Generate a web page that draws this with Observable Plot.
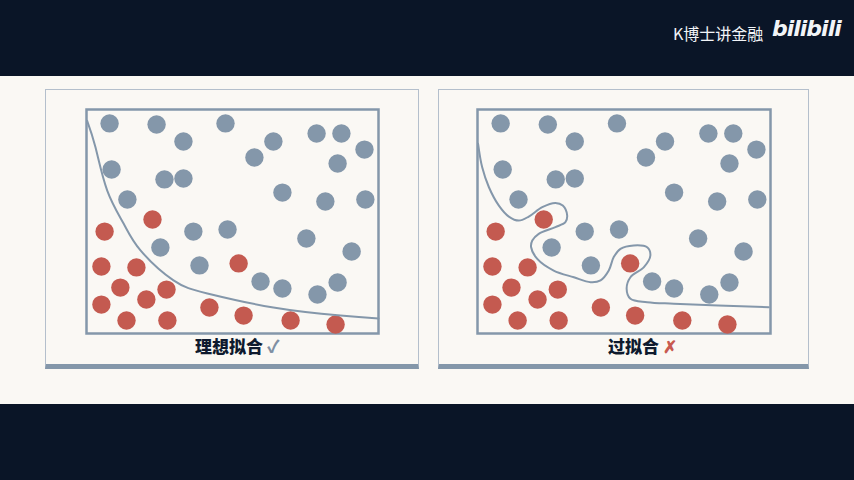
<!DOCTYPE html>
<html>
<head>
<meta charset="utf-8">
<script src="https://cdn.jsdelivr.net/npm/d3@7"></script>
<script src="https://cdn.jsdelivr.net/npm/@observablehq/plot@0.6"></script>
<style>
  html, body { margin: 0; padding: 0; }
  body { width: 854px; height: 480px; background: #0a1527; position: relative; overflow: hidden;
         font-family: "Noto Sans CJK SC", "Noto Sans", sans-serif; }
  #band { position: absolute; left: 0; top: 76px; width: 854px; height: 328px; background: #faf8f4; }
  .panel { position: absolute; top: 89px; height: 274px; border: 1px solid #b4bfcc;
           border-bottom: 5px solid #8497aa; box-sizing: content-box; }
  .plotwrap { position: absolute; top: 99px; }
  .caption { position: absolute; top: 333px; font-weight: 900; font-size: 17px; color: #0e1a2e;
             white-space: nowrap; letter-spacing: 0px; }
  .brand { position: absolute; top: 21px; left: 673px; color: #f2f4f7; font-size: 16px; }
  .bili { position: absolute; top: 16px; left: 772px; color: #f2f4f7; font-size: 22px;
          font-family: "DejaVu Sans", sans-serif; font-weight: 700; letter-spacing: -1px; font-style: italic; }
</style>
</head>
<body>
<div id="band"></div>
<div class="panel" style="left:45px; width:372px;"></div>
<div class="panel" style="left:438px; width:369px;"></div>
<div id="left" class="plotwrap" style="left:76px;"></div>
<div id="right" class="plotwrap" style="left:467px;"></div>
<div class="caption" style="left:195px;">理想拟合 <span style="color:#7f8fa3;">✓</span></div>
<div class="caption" style="left:608px;">过拟合 <span style="color:#c85a50;">✗</span></div>
<div class="brand">K博士讲金融</div>
<div class="bili">bilibili</div>
<script>
// Class A (blue-grey) points
const blueX = [7.9, 24.0, 47.6, 33.2, 64.0, 78.8, 87.3, 95.2, 57.5, 86.0, 8.6, 26.7, 33.2, 14.0, 67.1, 81.8, 95.5, 36.6, 48.3, 25.3, 75.3, 90.8, 38.7, 59.6, 67.1, 86.0, 79.1];
const blueY = [93.8, 93.3, 93.8, 85.7, 85.7, 89.3, 89.3, 82.1, 78.6, 75.9, 73.2, 68.8, 69.2, 59.8, 62.9, 58.9, 59.8, 45.5, 46.4, 38.4, 42.4, 36.6, 30.4, 23.2, 20.1, 22.8, 17.4];
// Class B (red) points
const redX = [22.6, 6.2, 5.1, 17.1, 52.1, 11.6, 27.4, 20.5, 5.1, 42.1, 53.8, 13.7, 27.7, 69.9, 85.3];
const redY = [50.9, 45.5, 29.9, 29.5, 31.3, 20.5, 19.6, 15.2, 12.9, 11.6, 8.0, 5.8, 5.8, 5.8, 4.0];
// Ideal fit boundary
const goodX = [0.2, 3.1, 7.1, 12.7, 18.5, 29.8, 41.4, 64.0, 87.0, 100];
const goodY = [95, 83, 63.8, 49.1, 37.1, 23.7, 17.9, 11.6, 8.0, 6.7];
// Overfit boundary
const overX = [0.2, 1.6, 3.9, 7.3, 10.7, 14.1, 17.5, 22.1, 26.6, 29.1, 30.6, 30.0, 26.6, 20.9, 18.7, 18.3, 20.4, 26.0, 32.9, 38.6, 42.0, 44.8, 46.5, 48.8, 53.3, 57.9, 59.0, 56.8, 52.2, 50.9, 52.2, 57.9, 67.0, 99.4];
const overY = [84.7, 74.2, 65.3, 57.1, 52.2, 50.4, 52.2, 56.4, 58.3, 57.1, 52.7, 49.7, 47.5, 44.5, 41.5, 38.5, 33.3, 28.1, 25.1, 22.9, 23.7, 28.1, 34.1, 37.8, 39.3, 38.5, 34.8, 29.6, 25.1, 20.0, 15.5, 14.0, 13.3, 11.7];

const points = [
  ...blueX.map((x, i) => ({x, y: blueY[i], cls: "A"})),
  ...redX.map((x, i) => ({x, y: redY[i], cls: "B"}))
];
const good = goodX.map((x, i) => ({x, y: goodY[i]}));
const over = overX.map((x, i) => ({x, y: overY[i]}));

function panel(curveData, curveType, w) {
  return Plot.plot({
    width: w + 20, height: 244,
    marginTop: 10, marginBottom: 10, marginLeft: 10, marginRight: 10,
    x: {domain: [0, 100], axis: null},
    y: {domain: [0, 100], axis: null},
    color: {domain: ["A", "B"], range: ["#8497aa", "#c45a50"]},
    style: {background: "transparent", overflow: "visible"},
    marks: [
      Plot.frame({stroke: "#8497aa", strokeWidth: 2.5}),
      Plot.dot(points, {x: "x", y: "y", r: 9.2, fill: "cls", stroke: "none"}),
      Plot.line(curveData, {x: "x", y: "y", stroke: "#8497aa", strokeWidth: 2, curve: curveType})
    ]
  });
}
document.getElementById("left").append(panel(good, "natural", 292));
document.getElementById("right").append(panel(over, "catmull-rom", 293));
</script>
</body>
</html>
